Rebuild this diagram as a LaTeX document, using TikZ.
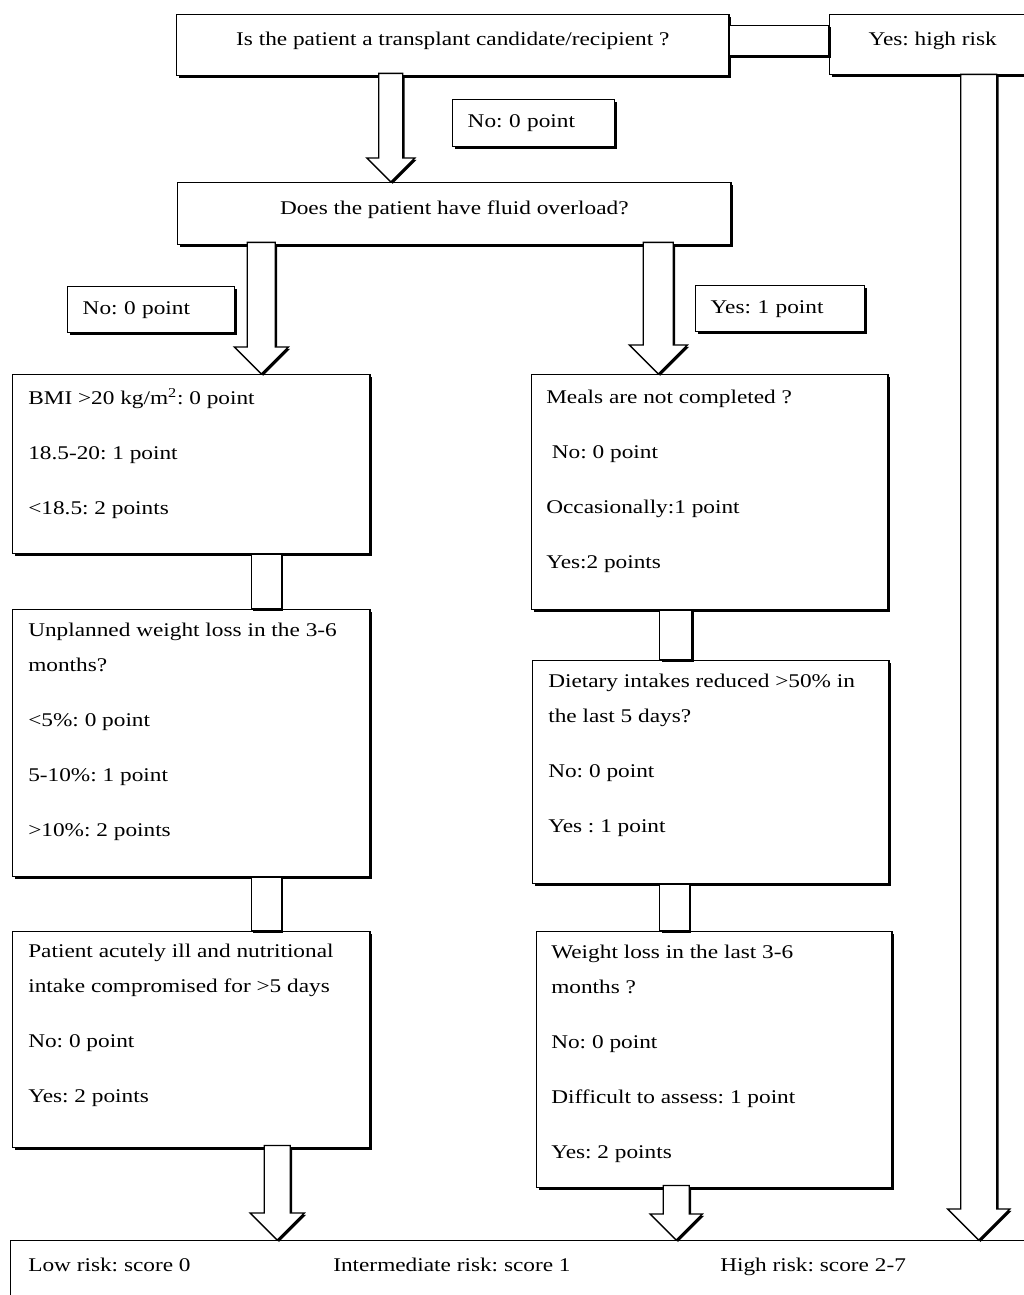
\documentclass[tikz,border=0pt]{standalone}
\usepackage{fontspec}
\setmainfont[FakeStretch=1.2]{Liberation Serif}
\usepackage{tikz}
\usetikzlibrary{calc,shadows}
\frenchspacing

\def\px{0.7113pt}
% block arrow: shaft half width, head half width (px), from, to
\newcommand{\blockarrow}[4]{%
\draw[bar] let \p1=#3, \p2=#4 in (\x1-#1*\px,\y1) -- (\x1-#1*\px,\y2+#2*\px) -- (\x1-#2*\px,\y2+#2*\px) -- (\x1,\y2) -- (\x1+#2*\px,\y2+#2*\px) -- (\x1+#1*\px,\y2+#2*\px) -- (\x1+#1*\px,\y1) -- cycle;}

\tikzset{
box/.style={draw, line width=1pt, fill=white, anchor=north west, inner sep=0pt,
  drop shadow={shadow xshift=1.3pt, shadow yshift=-1.3pt, opacity=1, fill=black}},
qbox/.style={box, text depth=9pt},
lbl/.style={box, align=left, inner xsep=0.375cm},
txt/.style={anchor=north west, align=left, inner sep=0pt},
bar/.style={draw, line width=1pt, fill=white,
  drop shadow={shadow xshift=1.3pt, shadow yshift=-1.3pt, opacity=1, fill=black}}
}

\begin{document}
\begin{tikzpicture}[x=0.025cm, y=-0.025cm, font=\fontsize{13.8}{25}\selectfont]
\useasboundingbox (0,0) rectangle (1024,1295);
\clip (0,0) rectangle (1024,1295);

\node[qbox, minimum width=13.8cm, minimum height=1.525cm] (q1) at (176,14) {Is the patient a transplant candidate/recipient ?};
\node[qbox, minimum width=5.15cm, minimum height=1.5cm] (yes) at (829,14) {Yes: high risk};
\node[lbl, text width=3.3cm, minimum height=1.175cm] (no1) at (452,99) {No: 0 point};
\node[qbox, minimum width=13.825cm, minimum height=1.55cm] (q2) at (177,182) {Does the patient have fluid overload?};
\node[lbl, text width=3.425cm, minimum height=1.15cm] (no2) at (67,286) {No: 0 point};
\node[lbl, text width=3.475cm, minimum height=1.15cm] (yes1) at (695,285) {Yes: 1 point};

% left column
\node[box, minimum width=8.925cm, minimum height=4.475cm] (bmi) at (12,374) {};
\node[box, minimum width=8.925cm, minimum height=6.675cm] (unpl) at (12,609) {};
\node[box, minimum width=8.925cm, minimum height=5.4cm] (acute) at (12,931) {};
\node[txt] (bmitxt) at ($(bmi.north west)+(16,14)$) {BMI >20 kg/m\textsuperscript{2}: 0 point\\[14pt]18.5-20: 1 point\\[14pt]<18.5: 2 points};
\node[txt] (unpltxt) at ($(unpl.north west)+(16,14)$) {Unplanned weight loss in the 3-6\\months?\\[14pt]<5\%: 0 point\\[14pt]5-10\%: 1 point\\[14pt]>10\%: 2 points};
\node[txt] (acutetxt) at ($(acute.north west)+(16,13)$) {Patient acutely ill and nutritional\\intake compromised for >5 days\\[14pt]No: 0 point\\[14pt]Yes: 2 points};

% right column
\node[box, minimum width=8.9cm, minimum height=5.875cm] (meals) at (531,374) {};
\node[box, minimum width=8.9cm, minimum height=5.575cm] (diet) at (532,660) {};
\node[box, minimum width=8.875cm, minimum height=6.4cm] (weight) at (536,931) {};
\node[txt] (mealstxt) at ($(meals.north west)+(15,16)$) {Meals are not completed ?\\[14pt]\hspace{4pt}No: 0 point\\[14pt]Occasionally:1 point\\[14pt]Yes:2 points};
\node[txt] (diettxt) at ($(diet.north west)+(16,14)$) {Dietary intakes reduced >50\% in\\the last 5 days?\\[14pt]No: 0 point\\[14pt]Yes : 1 point};
\node[txt] (weighttxt) at ($(weight.north west)+(15,14)$) {Weight loss in the last 3-6\\months ?\\[14pt]No: 0 point\\[14pt]Difficult to assess: 1 point\\[14pt]Yes: 2 points};

% result
\node[box, minimum width=26.25cm, minimum height=2.25cm] (risk) at (10,1240) {};
\node[anchor=base west, inner sep=0pt] (low) at ($(risk.north west)+(18,31)$) {Low risk: score 0};
\node[anchor=base west, inner sep=0pt] (inter) at ($(risk.north west)+(323,31)$) {Intermediate risk: score 1};
\node[anchor=base west, inner sep=0pt] (high) at ($(risk.north west)+(710,31)$) {High risk: score 2-7};

% bars
\draw[bar] ($(q1.east)+(0,-20)$) rectangle ($(yes.west)+(0,11)$);
\draw[bar] ($(bmi.south)+(60,0)$) rectangle ($(unpl.north)+(90,0)$);
\draw[bar] ($(unpl.south)+(60,0)$) rectangle ($(acute.north)+(90,0)$);
\draw[bar] ($(meals.south)+(-50,0)$) rectangle ($(diet.north)+(-19,0)$);
\draw[bar] ($(diet.south)+(-51,0)$) rectangle ($(weight.north)+(-25,0)$);

% arrows
\blockarrow{12}{24}{($(q1.south)+(-62,-3)$)}{(q2.north)}
\blockarrow{14}{27}{($(q2.south)+(-193,-3)$)}{(bmi.north)}
\blockarrow{15}{29}{($(q2.south)+(204,-3)$)}{(meals.north)}
\blockarrow{13}{27}{($(acute.south)+(86,-3)$)}{(risk.north)}
\blockarrow{13}{26}{($(weight.south)+(-38,-3)$)}{(risk.north)}
\blockarrow{18}{31}{($(yes.south)+(46,-1)$)}{(risk.north)}
\end{tikzpicture}
\end{document}
